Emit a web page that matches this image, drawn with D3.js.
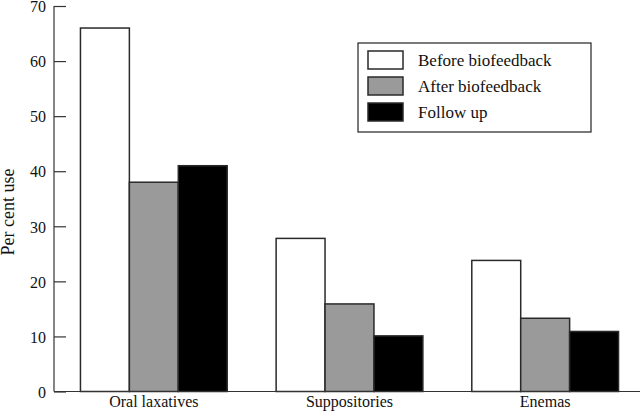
<!DOCTYPE html>
<html>
<head>
<meta charset="utf-8">
<script src="https://cdn.jsdelivr.net/npm/d3@7"></script>
<style>
  html, body { margin: 0; padding: 0; background: #fff; }
  svg { display: block; }
  text { font-family: "Liberation Serif", "Times New Roman", serif; fill: #111; }
</style>
</head>
<body>
<svg id="chart" width="640" height="413"></svg>
<script>
const categories = ["Oral laxatives", "Suppositories", "Enemas"];
const seriesNames = ["Before biofeedback", "After biofeedback", "Follow up"];
const beforeValues = [66, 27.8, 23.8];
const afterValues = [38, 15.9, 13.3];
const followValues = [41, 10.1, 10.9];
const yTicks = [0, 10, 20, 30, 40, 50, 60, 70];
const colors = ["#ffffff", "#9a9a9a", "#000000"];

const seriesValues = [beforeValues, afterValues, followValues];
const rows = categories.map((c, i) => ({
  category: c,
  values: seriesNames.map((s, j) => ({ series: s, idx: j, value: seriesValues[j][i] }))
}));

const svg = d3.select("#chart");
const axisX = 54, baseY = 391.5, topY = 6;

const x0 = d3.scaleBand().domain(categories).range([56, 643]).paddingInner(0.25).paddingOuter(0.125);
const x1 = d3.scaleBand().domain(seriesNames).range([0, x0.bandwidth()]).padding(0);
const y = d3.scaleLinear().domain([0, 70]).range([baseY, topY]);

// Bars
const g = svg.append("g");
g.selectAll("g.grp").data(rows).join("g")
  .attr("class", "grp")
  .attr("transform", d => `translate(${x0(d.category)},0)`)
  .selectAll("rect").data(d => d.values).join("rect")
  .attr("x", d => x1(d.series))
  .attr("y", d => y(d.value))
  .attr("width", x1.bandwidth())
  .attr("height", d => y(0) - y(d.value))
  .attr("fill", d => colors[d.idx])
  .attr("stroke", "#2a2a2a")
  .attr("stroke-width", 1.5);

// Y axis (ticks pointing inward)
const yAxis = d3.axisRight(y).tickValues(yTicks).tickSize(12).tickFormat(d3.format("d"));
const yg = svg.append("g").attr("transform", `translate(${axisX},0)`).call(yAxis);
yg.select(".domain").attr("stroke", "#333").attr("stroke-width", 1.2).attr("d", `M0,${topY}V${baseY}`);
yg.selectAll(".tick line").attr("stroke", "#333").attr("stroke-width", 1.2);
yg.selectAll(".tick text")
  .attr("x", -8).attr("text-anchor", "end").attr("dy", "0.36em")
  .attr("font-size", 16).attr("font-family", "Liberation Serif").attr("fill", "#111");

// X axis
const xAxis = d3.axisBottom(x0).tickSize(0).tickPadding(0);
const xg = svg.append("g").attr("transform", `translate(0,${baseY})`).call(xAxis);
xg.select(".domain").attr("stroke", "#333").attr("stroke-width", 1.2).attr("d", `M${axisX},0H640`);
xg.selectAll(".tick text")
  .attr("y", 15).attr("dy", 0)
  .attr("font-size", 16).attr("font-family", "Liberation Serif").attr("fill", "#111");

// Y title
svg.append("text")
  .attr("transform", "translate(14,212) rotate(-90)")
  .attr("text-anchor", "middle")
  .attr("font-size", 18)
  .text("Per cent use");

// Legend
const lg = svg.append("g");
lg.append("rect").attr("x", 358).attr("y", 43).attr("width", 233).attr("height", 89)
  .attr("fill", "#fff").attr("stroke", "#222").attr("stroke-width", 1.2);
const items = lg.selectAll("g.item").data(seriesNames).join("g").attr("class", "item")
  .attr("transform", (d, i) => `translate(368,${51 + i * 26})`);
items.append("rect").attr("width", 35).attr("height", 18)
  .attr("fill", (d, i) => colors[i]).attr("stroke", "#2a2a2a").attr("stroke-width", 1.5);
items.append("text").attr("x", 50).attr("y", 15).attr("font-size", 17).text(d => d);
</script>
</body>
</html>
